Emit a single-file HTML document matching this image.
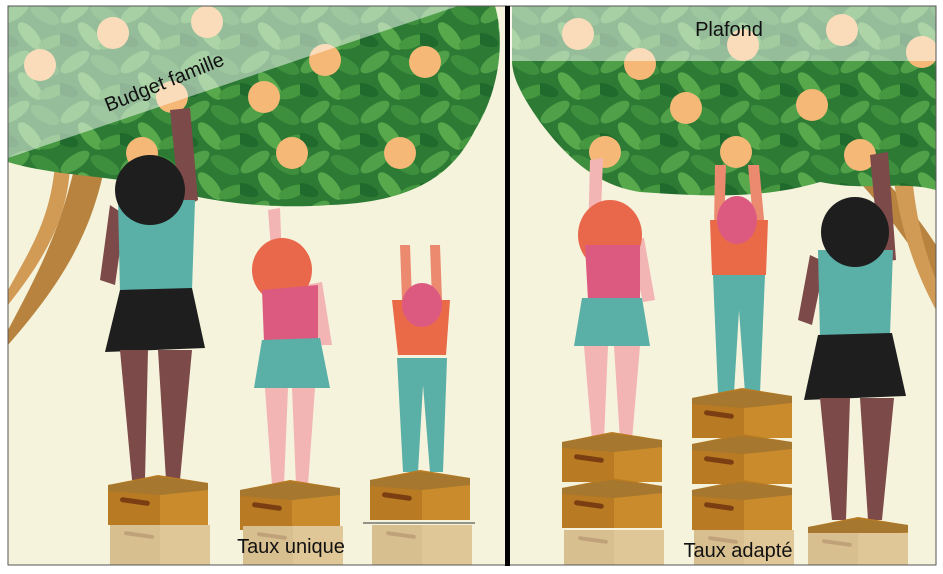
<!DOCTYPE html>
<html><head><meta charset="utf-8"><style>
body{margin:0;background:#fff;}
svg{display:block}
text{font-family:"Liberation Sans",sans-serif;}
</style></head><body>
<svg width="943" height="574" viewBox="0 0 943 574" xmlns="http://www.w3.org/2000/svg">
<defs>
<clipPath id="pan"><rect x="8" y="6" width="928" height="559"/></clipPath>
<pattern id="leaves" width="60" height="50" patternUnits="userSpaceOnUse">
 <rect width="60" height="50" fill="#2c7a34"/>
 <ellipse cx="15" cy="12" rx="17" ry="7" fill="#4fa048" transform="rotate(-35 15 12)"/>
 <ellipse cx="45" cy="15" rx="16" ry="7" fill="#3d8f3e" transform="rotate(30 45 15)"/>
 <ellipse cx="30" cy="36" rx="17" ry="7" fill="#58a94c" transform="rotate(50 30 36)"/>
 <ellipse cx="52" cy="42" rx="14" ry="6" fill="#45983f" transform="rotate(-20 52 42)"/>
 <ellipse cx="6" cy="40" rx="13" ry="6" fill="#1f6a2c" transform="rotate(20 6 40)"/>
</pattern>
<g id="box">
 <polygon points="0,10 50,0 100,8 100,50 0,50" fill="#b87a22"/>
 <polygon points="52,14 100,8 100,50 52,50" fill="#c98b2b"/>
 <polygon points="0,10 50,2 100,8 100,15 52,20 0,16" fill="#a5772f"/>
 <rect x="12" y="24" width="30" height="5" rx="2.5" fill="#7a3e12" transform="rotate(8 27 26)"/>
</g>
<g id="fbox">
 <rect x="0" y="0" width="100" height="40" fill="#d8bf8f"/>
 <rect x="50" y="0" width="50" height="40" fill="#e0c797"/>
 <rect x="14" y="8" width="30" height="4" rx="2" fill="#c0a27a" transform="rotate(8 29 10)"/>
</g>
</defs>
<rect x="8" y="6" width="928" height="559" fill="#f5f3dc"/>
<g clip-path="url(#pan)">
<!-- trunks -->
<path d="M8,330 C40,270 60,230 75,165 L105,165 C92,230 65,280 8,345 Z" fill="#b7833f"/>
<path d="M8,290 C30,250 50,220 55,165 L70,165 C68,220 42,262 8,305 Z" fill="#d19a55"/>
<path d="M936,280 C900,235 880,200 845,168 L868,162 C900,195 920,220 936,245 Z" fill="#b7833f"/>
<path d="M936,310 C912,265 900,225 893,175 L912,175 C916,220 926,255 936,280 Z" fill="#d19a55"/>
<!-- left canopy -->
<path d="M8,6 L495,6 C505,40 500,90 475,130 C455,170 420,202 330,205 C260,210 200,200 150,185 C100,175 50,175 8,162 Z" fill="url(#leaves)"/>
<!-- right canopy -->
<path d="M512,6 L936,6 L936,190 C900,180 870,192 820,182 C760,200 700,196 640,192 C600,186 570,162 540,122 C525,100 512,80 512,60 Z" fill="url(#leaves)"/>
<!-- peaches -->
<g fill="#f5b877">
<circle cx="40" cy="65" r="16"/><circle cx="113" cy="33" r="16"/><circle cx="207" cy="22" r="16"/>
<circle cx="172" cy="97" r="16"/><circle cx="325" cy="60" r="16"/><circle cx="425" cy="62" r="16"/>
<circle cx="264" cy="97" r="16"/><circle cx="142" cy="153" r="16"/><circle cx="292" cy="153" r="16"/><circle cx="400" cy="153" r="16"/>
<circle cx="578" cy="34" r="16"/><circle cx="640" cy="64" r="16"/><circle cx="743" cy="45" r="16"/><circle cx="842" cy="30" r="16"/><circle cx="922" cy="52" r="16"/>
<circle cx="686" cy="108" r="16"/><circle cx="812" cy="105" r="16"/>
<circle cx="605" cy="152" r="16"/><circle cx="736" cy="152" r="16"/><circle cx="860" cy="155" r="16"/>
</g>
<!-- overlays -->
<polygon points="8,6 458,6 8,158" fill="#ffffff" fill-opacity="0.5"/>
<rect x="510" y="6" width="426" height="55" fill="#ffffff" fill-opacity="0.5"/>

<!-- LEFT: woman 1 (dark) -->
<path d="M170,110 L190,108 L198,200 L180,210 Z" fill="#7d4a4a"/>
<path d="M110,205 L100,280 L115,285 L125,215 Z" fill="#7d4a4a"/>
<path d="M118,200 L195,200 L192,290 L120,292 Z" fill="#5aafa7"/>
<ellipse cx="150" cy="190" rx="35" ry="35" fill="#1e1e1e"/>
<path d="M120,290 L192,288 L205,348 L105,352 Z" fill="#1e1e1e"/>
<path d="M120,350 L148,350 L145,480 L132,480 Z" fill="#7d4a4a"/>
<path d="M158,350 L192,350 L180,480 L166,480 Z" fill="#7d4a4a"/>
<use href="#box" x="108" y="475"/>
<!-- woman 2 -->
<path d="M268,210 L280,208 L282,260 L272,262 Z" fill="#f2b5b3"/>
<path d="M306,285 L322,282 L332,345 L320,345 Z" fill="#f2b5b3"/>
<ellipse cx="282" cy="270" rx="30" ry="32" fill="#e9684b"/>
<path d="M262,290 L318,285 L318,340 L264,342 Z" fill="#dc5a80"/>
<path d="M262,340 L320,338 L330,388 L254,388 Z" fill="#5aafa7"/>
<path d="M265,388 L288,388 L284,485 L272,485 Z" fill="#f2b5b3"/>
<path d="M292,388 L315,388 L308,485 L296,485 Z" fill="#f2b5b3"/>
<use href="#box" x="240" y="480"/>
<!-- woman 3 -->
<path d="M400,245 L410,245 L412,300 L402,300 Z" fill="#ec8a70"/>
<path d="M430,245 L440,245 L442,300 L432,300 Z" fill="#ec8a70"/>
<path d="M392,300 L450,300 L446,355 L398,355 Z" fill="#ea6a48"/>
<ellipse cx="422" cy="305" rx="20" ry="22" fill="#dc5a80"/>
<path d="M397,358 L447,358 L443,472 L430,472 L423,385 L418,472 L403,472 Z" fill="#5aafa7"/>
<use href="#box" x="370" y="470"/>
<!-- woman A -->
<path d="M590,160 L603,158 L600,240 L588,240 Z" fill="#f2b5b3"/>
<path d="M628,240 L644,238 L655,300 L643,302 Z" fill="#f2b5b3"/>
<ellipse cx="610" cy="235" rx="32" ry="35" fill="#e9684b"/>
<path d="M585,245 L640,245 L640,298 L588,300 Z" fill="#dc5a80"/>
<path d="M582,298 L642,298 L650,346 L574,346 Z" fill="#5aafa7"/>
<path d="M584,346 L608,346 L604,440 L592,440 Z" fill="#f2b5b3"/>
<path d="M614,346 L640,346 L632,440 L620,440 Z" fill="#f2b5b3"/>
<use href="#box" x="562" y="432"/>
<use href="#box" x="562" y="478"/>
<!-- woman B -->
<path d="M715,165 L726,165 L724,230 L714,230 Z" fill="#ec8a70"/>
<path d="M748,165 L759,165 L765,230 L754,230 Z" fill="#ec8a70"/>
<path d="M710,220 L768,220 L766,275 L712,275 Z" fill="#ea6a48"/>
<ellipse cx="737" cy="220" rx="20" ry="24" fill="#dc5a80"/>
<path d="M713,275 L765,275 L760,393 L745,393 L739,310 L734,393 L718,393 Z" fill="#5aafa7"/>
<use href="#box" x="692" y="388"/>
<use href="#box" x="692" y="434"/>
<use href="#box" x="692" y="480"/>
<!-- woman C (dark) -->
<path d="M870,155 L888,152 L896,260 L880,262 Z" fill="#7d4a4a"/>
<path d="M810,255 L798,320 L812,325 L825,262 Z" fill="#7d4a4a"/>
<path d="M818,250 L893,250 L890,335 L820,337 Z" fill="#5aafa7"/>
<ellipse cx="855" cy="232" rx="34" ry="35" fill="#1e1e1e"/>
<path d="M818,335 L892,333 L906,396 L804,400 Z" fill="#1e1e1e"/>
<path d="M820,398 L850,398 L846,520 L832,520 Z" fill="#7d4a4a"/>
<path d="M860,398 L894,398 L882,520 L868,520 Z" fill="#7d4a4a"/>
<use href="#box" x="808" y="517"/>
<!-- bottom fades -->
<use href="#fbox" x="110" y="525"/>
<use href="#fbox" x="243" y="526"/>
<use href="#fbox" x="372" y="525"/>
<use href="#fbox" x="564" y="530"/>
<use href="#fbox" x="694" y="530"/>
<use href="#fbox" x="808" y="533"/>
</g>
<line x1="363" y1="523" x2="475" y2="523" stroke="#333" stroke-width="1"/>
<!-- borders -->
<rect x="8" y="6" width="928" height="559" fill="none" stroke="#555" stroke-width="1"/>
<rect x="505" y="6" width="5" height="560" fill="#000"/>
<!-- labels -->
<text x="0" y="0" font-size="20" fill="#111" transform="translate(108,112) rotate(-22)">Budget famille</text>
<text x="729" y="36" font-size="20" fill="#111" text-anchor="middle">Plafond</text>
<text x="291" y="553" font-size="20" fill="#111" text-anchor="middle">Taux unique</text>
<text x="738" y="557" font-size="20" fill="#111" text-anchor="middle">Taux adapté</text>
</svg>
</body></html>
